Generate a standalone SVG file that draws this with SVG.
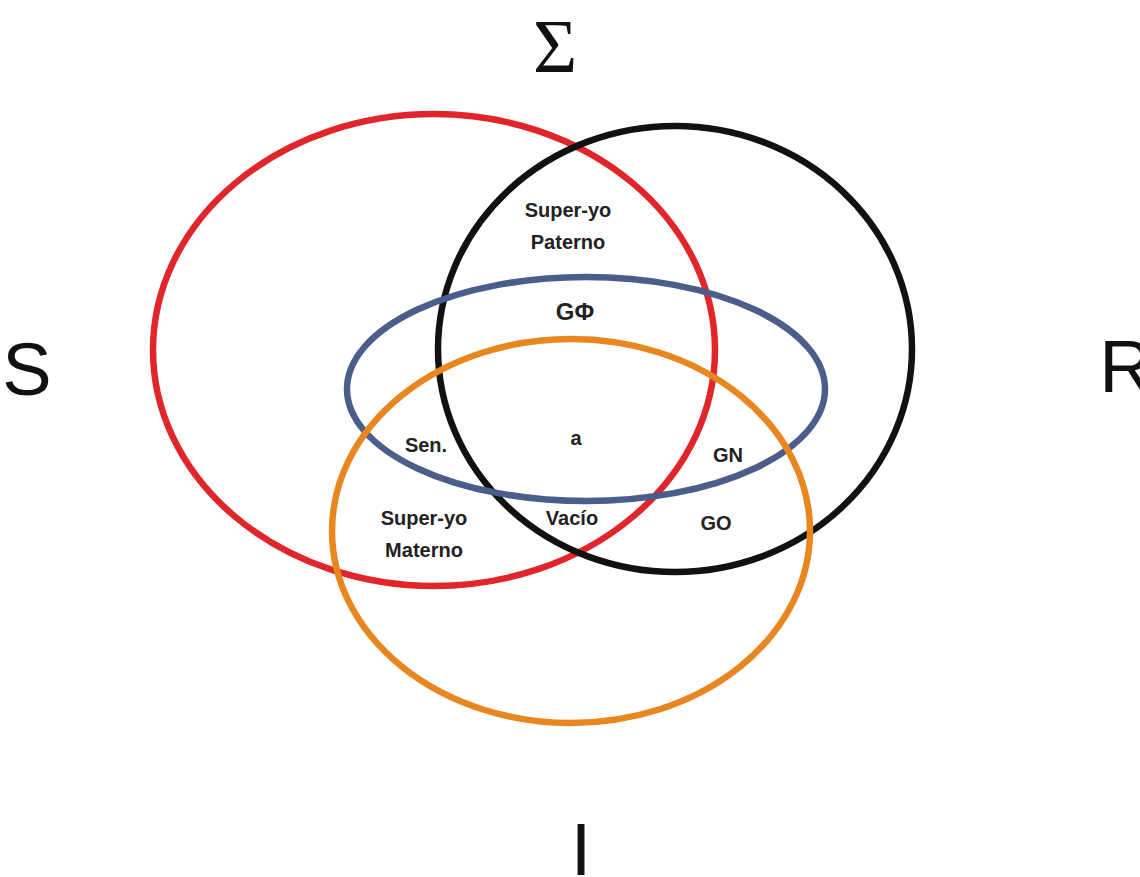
<svg xmlns="http://www.w3.org/2000/svg" width="1140" height="877" viewBox="0 0 1140 877">
<style>
.ring{fill:none;stroke-width:6.5}
.lbl{font-family:"Liberation Sans",Arial,sans-serif;font-weight:bold;font-size:20px;fill:#222;text-anchor:middle}
.big{font-family:"Liberation Sans",Arial,sans-serif;font-size:74px;fill:#111;text-anchor:middle}
</style>
<rect width="1140" height="877" fill="#fff"/>
<g id="letters">
<text x="555" y="72" style="font-family:'Liberation Serif',serif;font-size:76px;fill:#111;text-anchor:middle">Σ</text>
<text class="big" x="27" y="395">S</text>
<text class="big" x="1126" y="392">R</text>
<text class="big" x="581" y="875">I</text>
</g>
<g id="rings">
<ellipse id="red" class="ring" cx="434" cy="350" rx="281" ry="236" stroke="#e0262b"/>
<ellipse id="black" class="ring" cx="675" cy="349" rx="237" ry="223" stroke="#111"/>
<ellipse id="blue" class="ring" cx="586" cy="389" rx="239" ry="112" stroke="#4b5d8a"/>
<ellipse id="orange" class="ring" cx="571" cy="531" rx="239" ry="192" stroke="#e8861f"/>
</g>
<g id="labels">
<text class="lbl" x="568" y="217">Super-yo</text>
<text class="lbl" x="568" y="249">Paterno</text>
<text class="lbl" x="575" y="320" style="font-size:24px">GΦ</text>
<text class="lbl" x="576" y="445">a</text>
<text class="lbl" x="426" y="452">Sen.</text>
<text class="lbl" x="728" y="462">GN</text>
<text class="lbl" x="424" y="525">Super-yo</text>
<text class="lbl" x="424" y="557">Materno</text>
<text class="lbl" x="572" y="525">Vacío</text>
<text class="lbl" x="716" y="530">GO</text>
</g>
</svg>
